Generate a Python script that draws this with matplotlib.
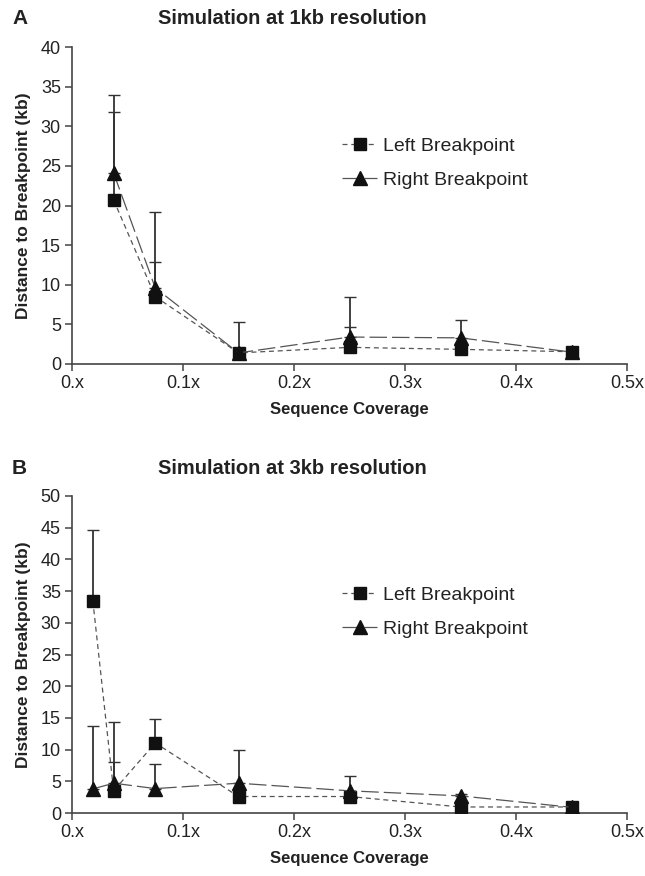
import numpy as np
import matplotlib
matplotlib.use("Agg")
import matplotlib.pyplot as plt

plt.rcParams['font.family'] = ['Liberation Sans', 'DejaVu Sans']

# panel A: 1kb resolution
cov_a = [0.0375, 0.075, 0.15, 0.25, 0.35, 0.45]
left_a = [20.7, 8.5, 1.4, 2.1, 1.85, 1.55]
left_err_a = [11.1, 4.4, 0.5, 2.6, 0.5, 0.3]
right_a = [24.1, 9.6, 1.4, 3.4, 3.3, 1.5]
right_err_a = [9.9, 9.6, 3.9, 5.1, 2.3, 0.3]

# panel B: 3kb resolution
cov_b = [0.01875, 0.0375, 0.075, 0.15, 0.25, 0.35, 0.45]
left_b = [33.5, 3.5, 11.05, 2.6, 2.6, 0.95, 0.95]
left_err_b = [11.1, 4.5, 3.85, 0.3, 0.3, 0.3, 0.85]
right_b = [3.8, 4.7, 3.85, 4.7, 3.5, 2.7, 0.9]
right_err_b = [9.9, 9.7, 3.85, 5.2, 2.3, 0.3, 0.3]

xticks = [0, 0.1, 0.2, 0.3, 0.4, 0.5]
xticklabels = ["0.x", "0.1x", "0.2x", "0.3x", "0.4x", "0.5x"]

W, H = 645, 876
fig = plt.figure(figsize=(W / 100, H / 100), dpi=100)


def panel(rect, cov, left, left_err, right, right_err, ymax, title, letter, title_y):
    ax = fig.add_axes(rect)
    ax.errorbar(cov, right, yerr=[np.zeros(len(right)), right_err], fmt='none',
                ecolor='#333333', elinewidth=1.3, capsize=4, capthick=1.0, zorder=2)
    ax.errorbar(cov, left, yerr=[np.zeros(len(left)), left_err], fmt='none',
                ecolor='#333333', elinewidth=1.3, capsize=4, capthick=1.0, zorder=2)
    ax.plot(cov, left, color='#555555', lw=0.9, dashes=(4, 3), marker='s',
            ms=8, mfc='#111111', mec='#111111', label='Left Breakpoint', zorder=3)
    ax.plot(cov, right, color='#555555', lw=0.9, dashes=(14, 4), marker='^',
            ms=10, mfc='#111111', mec='#111111', label='Right Breakpoint', zorder=3)
    ax.set_xlim(0, 0.5)
    ax.set_ylim(0, ymax)
    ax.set_xticks(xticks)
    ax.set_xticklabels(xticklabels)
    ax.set_yticks(np.arange(0, ymax + 1, 5))
    for s in ['top', 'right']:
        ax.spines[s].set_visible(False)
    for s in ['left', 'bottom']:
        ax.spines[s].set_color('#444444')
        ax.spines[s].set_linewidth(1.2)
    ax.tick_params(axis='both', direction='out', length=5, width=1.1, color='#444444',
                   labelsize=13, labelcolor='#222222', pad=3)
    ax.set_xlabel('Sequence Coverage', fontsize=12, fontweight='bold', color='#222222', labelpad=7)
    ax.set_ylabel('Distance to Breakpoint (kb)', fontsize=12.5, fontweight='bold', color='#222222', labelpad=7)
    leg = ax.legend(loc='upper left', bbox_to_anchor=(0.455, 0.77), frameon=False,
                    fontsize=14, handlelength=1.8, handletextpad=0.3, labelspacing=0.85)
    for t in leg.get_texts():
        t.set_color('#222222')
    fig.text(292 / W, title_y, title, ha='center', va='center', fontsize=14.5,
             fontweight='bold', color='#222222')
    fig.text(12 / W, title_y, letter, ha='left', va='center', fontsize=15,
             fontweight='bold', color='#222222')
    return ax


panel([72 / W, 1 - 364 / H, 555 / W, 317 / H], cov_a, left_a, left_err_a, right_a, right_err_a,
      40, 'Simulation at 1kb resolution', 'A', 1 - 18 / H)
panel([72 / W, 1 - 813 / H, 555 / W, 317 / H], cov_b, left_b, left_err_b, right_b, right_err_b,
      50, 'Simulation at 3kb resolution', 'B', 1 - 468 / H)

fig.savefig('out.png', dpi=100)
